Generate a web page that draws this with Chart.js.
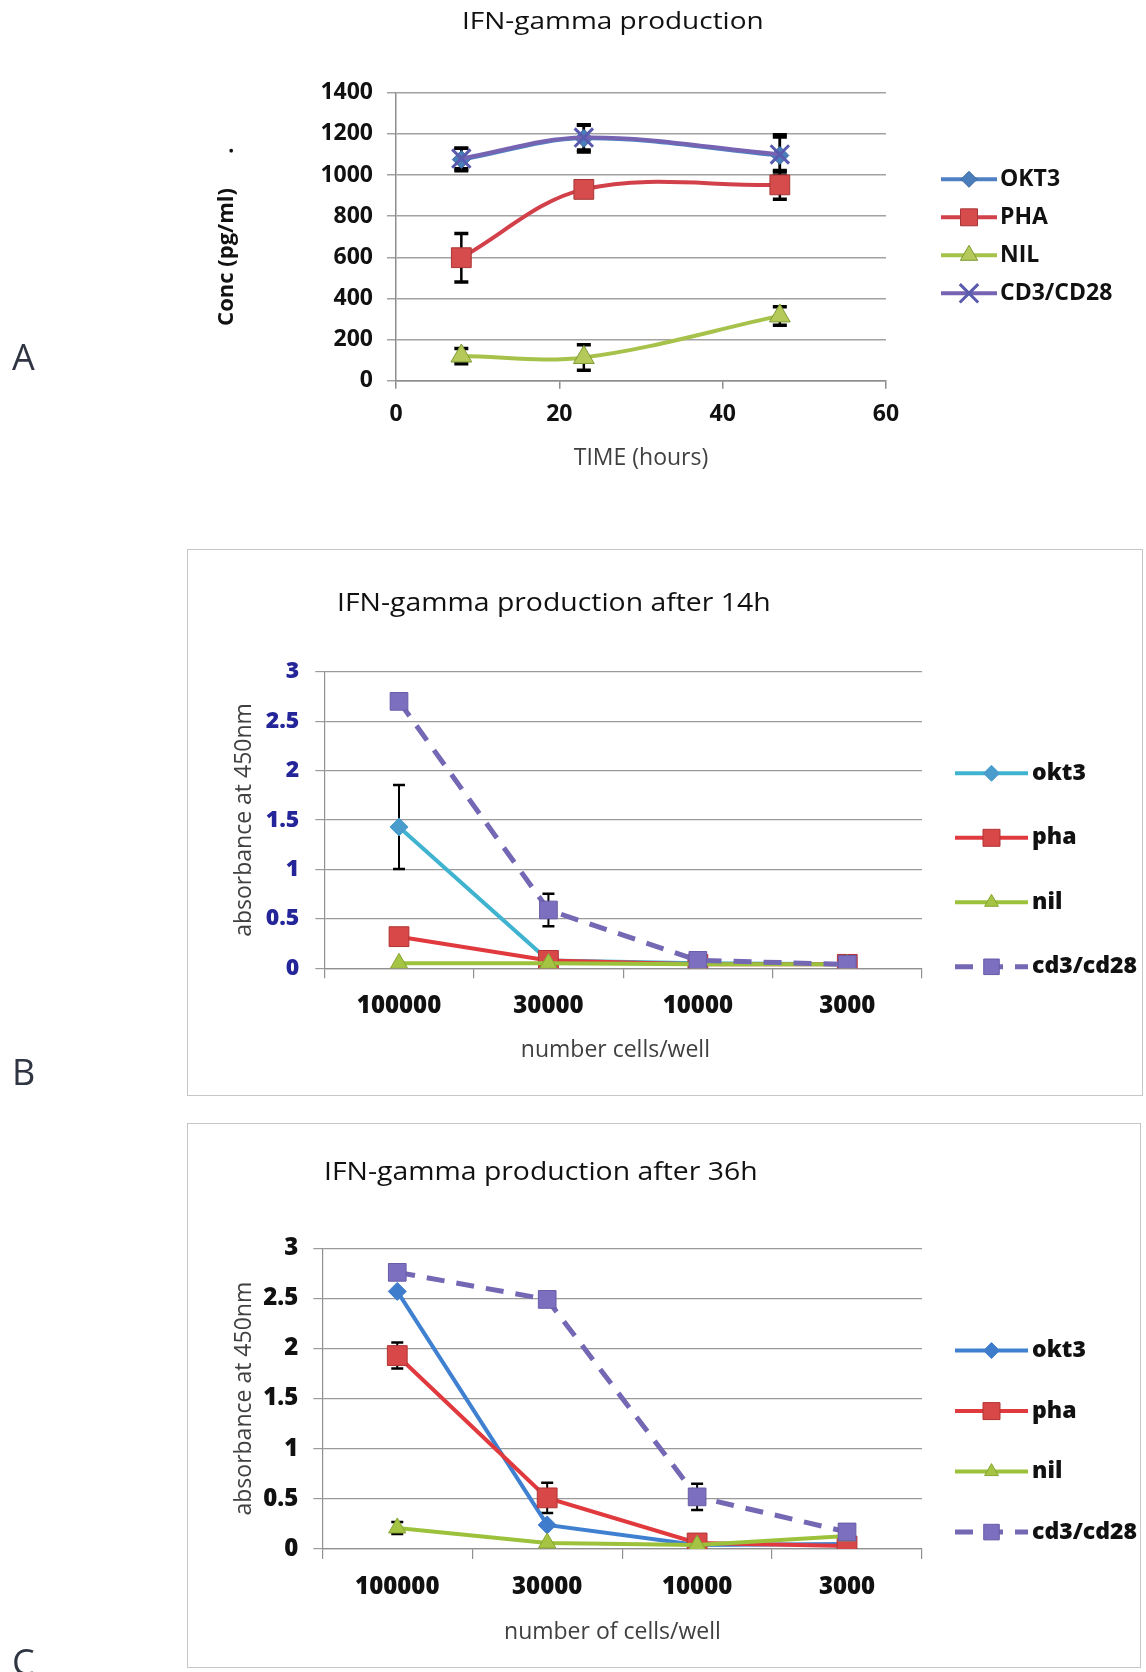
<!DOCTYPE html>
<html>
<head>
<meta charset="utf-8">
<title>IFN-gamma production</title>
<script src="https://cdn.jsdelivr.net/npm/chart.js@4.4.1/dist/chart.umd.min.js"></script>
<style>
  html, body { margin: 0; padding: 0; background: #fff; }
  body { position: relative; width: 1146px; height: 1672px; overflow: hidden; font-family: 'Open Sans', sans-serif; }
  canvas { position: absolute; left: 0; }
  .panel { position: absolute; box-sizing: border-box; border: 1.5px solid #c6c6c6; background: #fff; }
  .ttl { position: absolute; line-height: 1; white-space: nowrap; transform-origin: 0 0; color: #111; }
  .axt { position: absolute; line-height: 1; white-space: nowrap; font-size: 23px; color: #404040; transform: translateX(-50%); }
  .tag { position: absolute; left: 12px; font-size: 36px; line-height: 1; color: #2f3542; }
</style>
</head>
<body>
<div class="panel" style="left:187px;top:549px;width:956px;height:547px"></div>
<div class="panel" style="left:187px;top:1123px;width:954px;height:545px"></div>

<canvas id="chartA" width="1146" height="480" style="top:0;width:1146px;height:480px"></canvas>
<canvas id="chartB" width="1146" height="547" style="top:549px;width:1146px;height:547px"></canvas>
<canvas id="chartC" width="1146" height="549" style="top:1123px;width:1146px;height:549px"></canvas>

<div class="ttl" style="left:461.6px;top:8.9px;font-size:23px;transform:scaleX(1.216)">IFN-gamma production</div>
<div class="ttl" style="left:337px;top:589.2px;font-size:25px;transform:scaleX(1.135)">IFN-gamma production after 14h</div>
<div class="ttl" style="left:324px;top:1157.7px;font-size:25px;transform:scaleX(1.135)">IFN-gamma production after 36h</div>
<div class="axt" style="left:615.4px;top:1037.3px">number cells/well</div>
<div class="axt" style="left:612.4px;top:1619.2px">number of cells/well</div>
<div class="tag" style="top:338.7px">A</div>
<div class="tag" style="top:1053.7px">B</div>
<div class="tag" style="top:1643.7px">C</div>

<script>
// ---- Panel A: IFN-gamma concentration over time ----
const hoursA   = [8, 23, 47];
const okt3A    = [1075, 1178, 1095];
const phaA     = [598, 930, 952];
const nilA     = [120, 113, 315];
const cd3A     = [1080, 1182, 1100];
const okt3ErrA = [55, 66, 100];
const phaErrA  = [118, 20, 70];
const nilErrA  = [37, 62, 45];
const cd3ErrA  = [50, 60, 85];

// ---- Panels B and C: absorbance by cell density ----
const cellsPerWell = ['100000', '30000', '10000', '3000'];

const okt3B    = [1.43, 0.08, 0.05, 0.04];
const phaB     = [0.32, 0.08, 0.04, 0.04];
const nilB     = [0.05, 0.05, 0.04, 0.04];
const cd3B     = [2.70, 0.59, 0.08, 0.04];
const okt3ErrB = [0.425, null, null, null];
const cd3ErrB  = [null, 0.165, null, null];

const okt3C    = [2.57, 0.24, 0.04, 0.05];
const phaC     = [1.93, 0.51, 0.06, 0.03];
const nilC     = [0.21, 0.06, 0.04, 0.13];
const cd3C     = [2.76, 2.49, 0.52, 0.17];
const phaErrC  = [0.13, 0.15, null, null];
const nilErrC  = [0.06, null, null, null];
const cd3ErrC  = [null, null, 0.13, null];

Chart.defaults.font.family = "'Open Sans', sans-serif";
Chart.defaults.color = '#111';
Chart.defaults.animation = false;

const pairs = (xs, ys) => xs.map((x, i) => ({ x, y: ys[i] }));
const valueOf = (d) => (d !== null && typeof d === 'object') ? d.y : d;
const plainNumber = (v) => String(v);

// Vertical error bars with caps, drawn beneath the series
const errorBars = {
  id: 'errorBars',
  beforeDatasetsDraw(chart, args, opts) {
    const ctx = chart.ctx;
    const yScale = chart.scales.y;
    chart.data.datasets.forEach((ds, i) => {
      if (!ds.errors) return;
      const meta = chart.getDatasetMeta(i);
      ds.errors.forEach((e, j) => {
        if (e == null) return;
        const v = valueOf(ds.data[j]);
        const x = meta.data[j].x;
        const yTop = yScale.getPixelForValue(v + e);
        const yBot = yScale.getPixelForValue(v - e);
        ctx.save();
        ctx.strokeStyle = opts.color || '#000';
        ctx.lineWidth = opts.lineWidth;
        ctx.beginPath();
        ctx.moveTo(x, yTop); ctx.lineTo(x, yBot);
        ctx.stroke();
        ctx.lineWidth = opts.capWidth;
        ctx.beginPath();
        ctx.moveTo(x - opts.cap, yTop); ctx.lineTo(x + opts.cap, yTop);
        ctx.moveTo(x - opts.cap, yBot); ctx.lineTo(x + opts.cap, yBot);
        ctx.stroke();
        ctx.restore();
      });
    });
  }
};

// Series key on the right: line sample, marker and name
const seriesKey = {
  id: 'seriesKey',
  afterDraw(chart, args, opts) {
    const ctx = chart.ctx;
    chart.data.datasets.forEach((ds, i) => {
      const y = opts.top + i * opts.step;
      ctx.save();
      ctx.strokeStyle = ds.borderColor;
      ctx.lineWidth = ds.borderWidth;
      ctx.setLineDash(ds.borderDash || []);
      ctx.beginPath();
      ctx.moveTo(opts.x, y);
      ctx.lineTo(opts.x + opts.len, y);
      ctx.stroke();
      ctx.setLineDash([]);
      ctx.fillStyle = ds.pointBackgroundColor;
      ctx.strokeStyle = ds.pointBorderColor;
      ctx.lineWidth = ds.pointBorderWidth;
      Chart.helpers.drawPoint(ctx, {
        pointStyle: ds.pointStyle,
        radius: ds.keyRadius,
        rotation: 0,
        borderWidth: ds.pointBorderWidth
      }, opts.x + opts.len / 2, y);
      ctx.fillStyle = opts.color || '#111';
      ctx.font = opts.font;
      ctx.textAlign = 'left';
      ctx.textBaseline = 'middle';
      ctx.fillText(ds.label, opts.textX, y);
      ctx.restore();
    });
  }
};

// ---- Chart A ----
new Chart(document.getElementById('chartA'), {
  type: 'line',
  data: {
    datasets: [
      { label: 'OKT3', data: pairs(hoursA, okt3A), errors: okt3ErrA,
        borderColor: '#4f80c2', borderWidth: 4, tension: 0.35, fill: false,
        pointStyle: 'rectRot', pointRadius: 9, keyRadius: 8,
        pointBackgroundColor: '#4a7ebb', pointBorderColor: '#3a66a4', pointBorderWidth: 1, order: 4 },
      { label: 'PHA', data: pairs(hoursA, phaA), errors: phaErrA,
        borderColor: '#d2404a', borderWidth: 4, tension: 0.35, fill: false,
        pointStyle: 'rect', pointRadius: 14, keyRadius: 12,
        pointBackgroundColor: '#d64b4b', pointBorderColor: '#a83636', pointBorderWidth: 1, order: 3 },
      { label: 'NIL', data: pairs(hoursA, nilA), errors: nilErrA,
        borderColor: '#a6c24a', borderWidth: 4, tension: 0.35, fill: false,
        pointStyle: 'triangle', pointRadius: 12, keyRadius: 10,
        pointBackgroundColor: '#b4c95a', pointBorderColor: '#7f9a36', pointBorderWidth: 1, order: 2 },
      { label: 'CD3/CD28', data: pairs(hoursA, cd3A), errors: cd3ErrA,
        borderColor: '#7664b2', borderWidth: 4, tension: 0.35, fill: false,
        pointStyle: 'crossRot', pointRadius: 13, keyRadius: 13,
        pointBackgroundColor: '#5c5cb0', pointBorderColor: '#5a5aae', pointBorderWidth: 3, order: 1 }
    ]
  },
  options: {
    responsive: false,
    animation: false,
    layout: { padding: { left: 213.8, top: 92.7, right: 260, bottom: 8.2 } },
    plugins: {
      legend: { display: false },
      tooltip: { enabled: false },
      errorBars: { lineWidth: 2.5, cap: 7, capWidth: 3.5 },
      seriesKey: { x: 941, len: 56, textX: 1000, top: 179.3, step: 38, font: 'bold 23px "Open Sans"' }
    },
    scales: {
      x: {
        type: 'linear', min: 0, max: 60,
        ticks: { stepSize: 20, padding: 12, maxRotation: 0, color: '#111', font: { size: 23, weight: 'bold' } },
        grid: { drawOnChartArea: false, tickLength: 8, color: '#8e8e8e', lineWidth: 1.5 },
        border: { color: '#8e8e8e', width: 1.5 },
        title: { display: true, text: 'TIME (hours)', color: '#404040', font: { size: 23 }, padding: 0 },
        afterFit: (s) => { s.height = 91.1; }
      },
      y: {
        min: 0, max: 1400,
        ticks: { stepSize: 200, padding: 14, color: '#111', font: { size: 23, weight: 'bold' }, callback: plainNumber },
        grid: { color: '#a2a2a2', lineWidth: 1.5, tickLength: 9 },
        border: { color: '#8e8e8e', width: 1.5 },
        title: { display: true, text: 'Conc (pg/ml)      .', color: '#111', font: { size: 22, weight: 'bold' }, padding: 0 },
        afterFit: (s) => { s.width = 182.2; }
      }
    }
  },
  plugins: [errorBars, seriesKey]
});

// ---- Charts B and C share one layout ----
function cellChart(id, s) {
  return new Chart(document.getElementById(id), {
    type: 'line',
    data: {
      labels: cellsPerWell,
      datasets: [
        { label: 'okt3', data: s.okt3, errors: s.okt3Err,
          borderColor: s.okt3Color, borderWidth: 4, tension: 0, fill: false,
          pointStyle: 'rectRot', pointRadius: 9, keyRadius: 8,
          pointBackgroundColor: s.okt3Marker, pointBorderColor: s.okt3Marker, pointBorderWidth: 1, order: 4 },
        { label: 'pha', data: s.pha, errors: s.phaErr,
          borderColor: '#e03a3f', borderWidth: 4, tension: 0, fill: false,
          pointStyle: 'rect', pointRadius: 14, keyRadius: 12,
          pointBackgroundColor: '#d94848', pointBorderColor: '#b23434', pointBorderWidth: 1, order: 3 },
        { label: 'nil', data: s.nil, errors: s.nilErr,
          borderColor: '#9cc23c', borderWidth: 4, tension: 0, fill: false,
          pointStyle: 'triangle', pointRadius: 10, keyRadius: 8,
          pointBackgroundColor: '#a6c443', pointBorderColor: '#86a534', pointBorderWidth: 1, order: 2 },
        { label: 'cd3/cd28', data: s.cd3, errors: s.cd3Err,
          borderColor: '#7468b4', borderWidth: 5, borderDash: [18, 12], tension: 0, fill: false,
          pointStyle: 'rect', pointRadius: 12.5, keyRadius: 11,
          pointBackgroundColor: '#7d6fbf', pointBorderColor: '#6a5aa8', pointBorderWidth: 1, order: 1 }
      ]
    },
    options: {
      responsive: false,
      animation: false,
      layout: { padding: s.padding },
      plugins: {
        legend: { display: false },
        tooltip: { enabled: false },
        errorBars: { lineWidth: 2, cap: 6, capWidth: 2.5 },
        seriesKey: { x: 955, len: 73, textX: 1032, top: s.keyTop, step: s.keyStep, font: '800 23px "Open Sans"' }
      },
      scales: {
        x: {
          type: 'category', offset: true,
          ticks: { padding: s.xPad, maxRotation: 0, autoSkip: false, color: '#111', font: { size: 24, weight: 800 } },
          grid: { offset: true, drawOnChartArea: false, tickLength: 10, color: '#909090', lineWidth: 1.2 },
          border: { color: '#909090', width: 1.2 },
          title: { display: false },
          afterFit: (sc) => { sc.height = s.xHeight; }
        },
        y: {
          min: 0, max: 3,
          ticks: { stepSize: 0.5, padding: s.yPad, color: s.yTickColor, font: { size: s.yTickSize, weight: 800 }, callback: plainNumber },
          grid: { color: '#9a9a9a', lineWidth: 1.2, tickLength: 9 },
          border: { color: '#909090', width: 1.2 },
          title: { display: true, text: 'absorbance at 450nm', color: '#404040', font: { size: 23 }, padding: 0 },
          afterFit: (sc) => { sc.width = s.yWidth; }
        }
      }
    },
    plugins: [errorBars, seriesKey]
  });
}

cellChart('chartB', {
  okt3: okt3B, pha: phaB, nil: nilB, cd3: cd3B,
  okt3Err: okt3ErrB, phaErr: null, nilErr: null, cd3Err: cd3ErrB,
  okt3Color: '#3fb3cf', okt3Marker: '#4a9ccc',
  padding: { left: 230.7, top: 122.7, right: 224, bottom: 30.2 },
  xHeight: 97.5, yWidth: 93.6, xPad: 13.8, yPad: 16,
  yTickColor: '#25259a', yTickSize: 23,
  keyTop: 224.3, keyStep: 64.5
});

cellChart('chartC', {
  okt3: okt3C, pha: phaC, nil: nilC, cd3: cd3C,
  okt3Err: null, phaErr: phaErrC, nilErr: nilErrC, cd3Err: cd3ErrC,
  okt3Color: '#3f80d0', okt3Marker: '#3f7ccc',
  padding: { left: 230.7, top: 125.3, right: 224, bottom: 23.2 },
  xHeight: 99.8, yWidth: 91.6, xPad: 13.6, yPad: 15,
  yTickColor: '#111', yTickSize: 24,
  keyTop: 227.6, keyStep: 60.5
});
</script>
</body>
</html>
